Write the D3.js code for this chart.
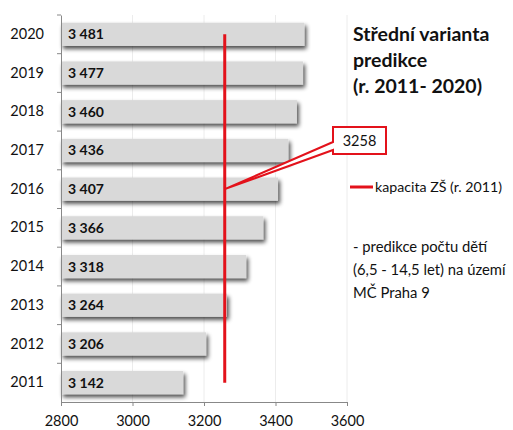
<!DOCTYPE html>
<html><head><meta charset="utf-8">
<script src="https://cdn.jsdelivr.net/npm/d3@7"></script>
<style>body{margin:0;background:#fff}svg{display:block;font-family:Lato,"Open Sans",sans-serif}</style>
</head><body>
<svg id="c" width="513" height="430"></svg>
<script>
const years = ["2011","2012","2013","2014","2015","2016","2017","2018","2019","2020"];
const values = [3142,3206,3264,3318,3366,3407,3436,3460,3477,3481];
const capacity = 3258;
const xTicks = [2800,3000,3200,3400,3600];
const titleLines = ["Střední varianta","predikce","(r. 2011- 2020)"];
const noteLines = ["- predikce počtu dětí","(6,5 - 14,5 let) na území","MČ Praha 9"];
const legendLabel = "kapacita ZŠ (r. 2011)";

const svg = d3.select("#c");
const L=61, R=347, T=15, B=402;
const x = d3.scaleLinear().domain([2800,3600]).range([L,R]);
const y = d3.scaleBand().domain(years.slice().reverse()).range([T,B]).paddingInner(0.4).paddingOuter(0.2);
const yb = d3.scaleBand().domain(years.slice().reverse()).range([T,B]);

const defs = svg.append("defs");
const f = defs.append("filter").attr("id","sh").attr("x","-5%").attr("y","-20%").attr("width","115%").attr("height","160%");
f.append("feGaussianBlur").attr("in","SourceAlpha").attr("stdDeviation",2).attr("result","b");
f.append("feOffset").attr("in","b").attr("dx",2).attr("dy",3).attr("result","o");
f.append("feComponentTransfer").attr("in","o").attr("result","o2").append("feFuncA").attr("type","linear").attr("slope",0.7);
const m = f.append("feMerge"); m.append("feMergeNode").attr("in","o2"); m.append("feMergeNode").attr("in","SourceGraphic");

// gridlines
svg.append("g").selectAll("line").data(xTicks.slice(1)).join("line")
  .attr("x1",d=>x(d)).attr("x2",d=>x(d)).attr("y1",T).attr("y2",B)
  .attr("stroke","#ececec").attr("stroke-width",1);

// bars
svg.append("g").selectAll("rect").data(years).join("rect")
  .attr("x",L).attr("y",(d)=>y(d)).attr("height",y.bandwidth())
  .attr("width",(d,i)=>x(values[i])-L).attr("fill","#d9d9d9").attr("filter","url(#sh)");

// value labels
svg.append("g").selectAll("text").data(years).join("text")
  .attr("x",L+7).attr("y",d=>y(d)+y.bandwidth()/2+5)
  .attr("font-size",14).attr("font-weight","bold").attr("fill","#111")
  .text((d,i)=>d3.format(",")(values[i]).replace(","," "));

// axes
const ax = svg.append("g").attr("transform",`translate(0,${B})`).call(d3.axisBottom(x).tickValues(xTicks).tickSize(4).tickFormat(d=>d));
ax.select(".domain").attr("stroke","#888");
ax.selectAll(".tick line").attr("stroke","#888");
ax.selectAll("text").attr("font-size",14.5).attr("fill","#111").attr("dy","1.2em").attr("font-family","Lato,sans-serif");

const ay = svg.append("g").attr("transform",`translate(${L},0)`).call(d3.axisLeft(yb).tickSize(0).tickPadding(17));
ay.select(".domain").attr("stroke","#888");
ay.selectAll("text").attr("font-size",14.5).attr("fill","#111").attr("font-family","Lato,sans-serif");
svg.append("g").selectAll("line").data(years).join("line")
  .attr("x1",L-4).attr("x2",L).attr("y1",d=>yb(d)).attr("y2",d=>yb(d)).attr("stroke","#888");

// capacity line
const red="#e3121b";
const cx = x(capacity);
svg.append("line").attr("x1",cx).attr("x2",cx)
  .attr("y1",y("2020")+y.bandwidth()/2).attr("y2",y("2011")+y.bandwidth()/2)
  .attr("stroke",red).attr("stroke-width",3);

// callout
const tipY = yb("2016")+yb.bandwidth()/2;
const bx=333, by=127, bw=53, bh=27;
svg.append("path").attr("d",`M${cx},${tipY} L${bx},${by+bh-12} L${bx},${by} L${bx+bw},${by} L${bx+bw},${by+bh} L${bx},${by+bh} L${bx},${by+bh-4} Z`)
  .attr("fill","#fff").attr("stroke",red).attr("stroke-width",2).attr("stroke-linejoin","miter");
svg.append("text").attr("x",bx+bw/2).attr("y",by+bh/2+5).attr("text-anchor","middle")
  .attr("font-size",14.5).attr("fill","#111").text(capacity);

// legend
svg.append("line").attr("x1",350).attr("x2",373).attr("y1",187).attr("y2",187).attr("stroke",red).attr("stroke-width",3);
svg.append("text").attr("x",375).attr("y",192).attr("font-size",14.2).attr("fill","#111").text(legendLabel);

// title
svg.append("g").selectAll("text").data(titleLines).join("text")
  .attr("x",353).attr("y",(d,i)=>41+i*26).attr("font-size",19.5).attr("font-weight","bold").attr("fill","#111").text(d=>d);

// note
svg.append("g").selectAll("text").data(noteLines).join("text")
  .attr("x",353).attr("y",(d,i)=>252+i*23).attr("font-size",14.8).attr("fill","#111").text(d=>d);
</script>
</body></html>
